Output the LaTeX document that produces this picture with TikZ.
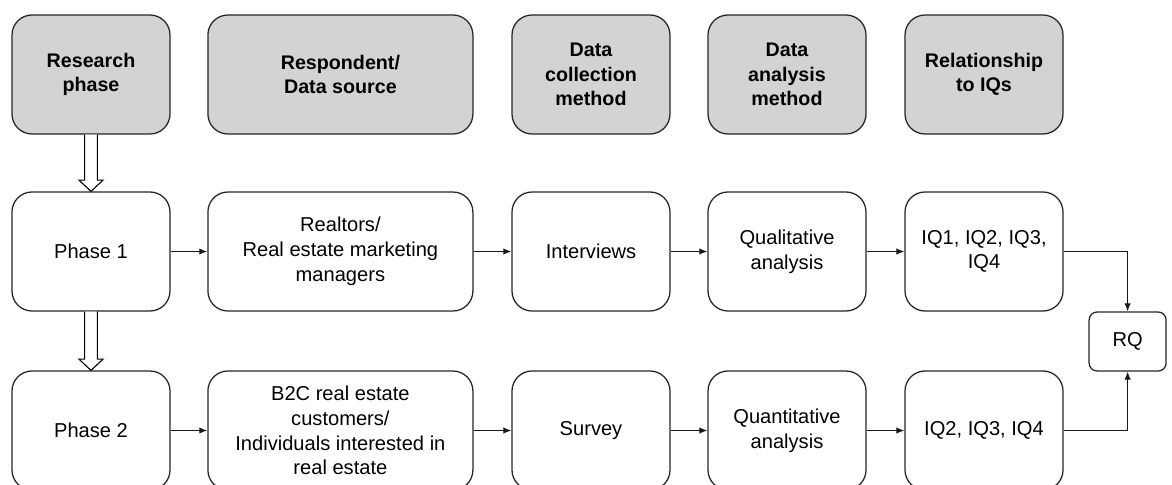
\documentclass[tikz,border=0pt]{standalone}
\usepackage{fontspec}
\setmainfont{Liberation Sans}
\usepackage{tikz}
\usetikzlibrary{arrows.meta, calc}

\definecolor{headgray}{RGB}{211,211,212}

% hollow block arrow between two stacked boxes
\newcommand{\phasearrow}[2]{%
  \draw[line width=0.8pt, fill=white]
    ($(#1.south)+(-0.16,0)$) -- ($(#2.north)+(-0.16,0.28)$)
    -- ($(#2.north)+(-0.3,0.28)$) -- (#2.north)
    -- ($(#2.north)+(0.3,0.28)$) -- ($(#2.north)+(0.16,0.28)$)
    -- ($(#1.south)+(0.16,0)$);}

\begin{document}
\begin{tikzpicture}[
  box/.style={draw=black!85, line width=0.9pt, rounded corners=5mm, fill=white,
              minimum width=3.95cm, minimum height=2.975cm, inner sep=0pt,
              align=center, font=\fontsize{14.3}{17.6}\selectfont},
  wide/.style={box, minimum width=6.625cm},
  head/.style={fill=headgray, font=\fontsize{14}{17.4}\selectfont\bfseries},
  arr/.style={-{Latex[length=2mm, width=1.6mm]}, line width=0.8pt, black!90}
]
  \useasboundingbox (0,0) rectangle (29.3,-12.125);

  % column headers
  \node[box, head]  (hphase) at (2.275,-1.8625)  {Research\\phase};
  \node[wide, head] (hsrc)   at (8.51,-1.8625)   {Respondent/\\Data source};
  \node[box, head]  (hcoll)  at (14.775,-1.8625) {Data\\collection\\method};
  \node[box, head]  (hana)   at (19.675,-1.8625) {Data\\analysis\\method};
  \node[box, head]  (hrel)   at (24.6,-1.8625)   {Relationship\\to IQs};

  % phase 1
  \node[box]  (p1)   at (2.275,-6.2875)  {Phase 1};
  \node[wide] (src1) at (8.51,-6.2875)   {Realtors/\\Real estate marketing\\managers};
  \node[box]  (col1) at (14.775,-6.2875) {Interviews};
  \node[box]  (ana1) at (19.675,-6.2875) {Qualitative\\analysis};
  \node[box]  (iq1)  at (24.6,-6.2875)   {IQ1, IQ2, IQ3,\\IQ4};

  % phase 2
  \node[box]  (p2)   at (2.275,-10.7625)  {Phase 2};
  \node[wide] (src2) at (8.51,-10.7625)   {B2C real estate\\customers/\\Individuals interested in\\real estate};
  \node[box]  (col2) at (14.775,-10.7625) {Survey};
  \node[box]  (ana2) at (19.675,-10.7625) {Quantitative\\analysis};
  \node[box]  (iq2)  at (24.6,-10.7625)   {IQ2, IQ3, IQ4};

  \node[box, rounded corners=2mm, minimum width=1.925cm, minimum height=1.475cm]
    (rq) at (28.19,-8.5375) {RQ};

  \phasearrow{hphase}{p1}
  \phasearrow{p1}{p2}

  \draw[arr] (p1) -- (src1);
  \draw[arr] (src1) -- (col1);
  \draw[arr] (col1) -- (ana1);
  \draw[arr] (ana1) -- (iq1);
  \draw[arr] (p2) -- (src2);
  \draw[arr] (src2) -- (col2);
  \draw[arr] (col2) -- (ana2);
  \draw[arr] (ana2) -- (iq2);
  \draw[arr] (iq1.east) -| (rq.north);
  \draw[arr] (iq2.east) -| (rq.south);
\end{tikzpicture}
\end{document}
